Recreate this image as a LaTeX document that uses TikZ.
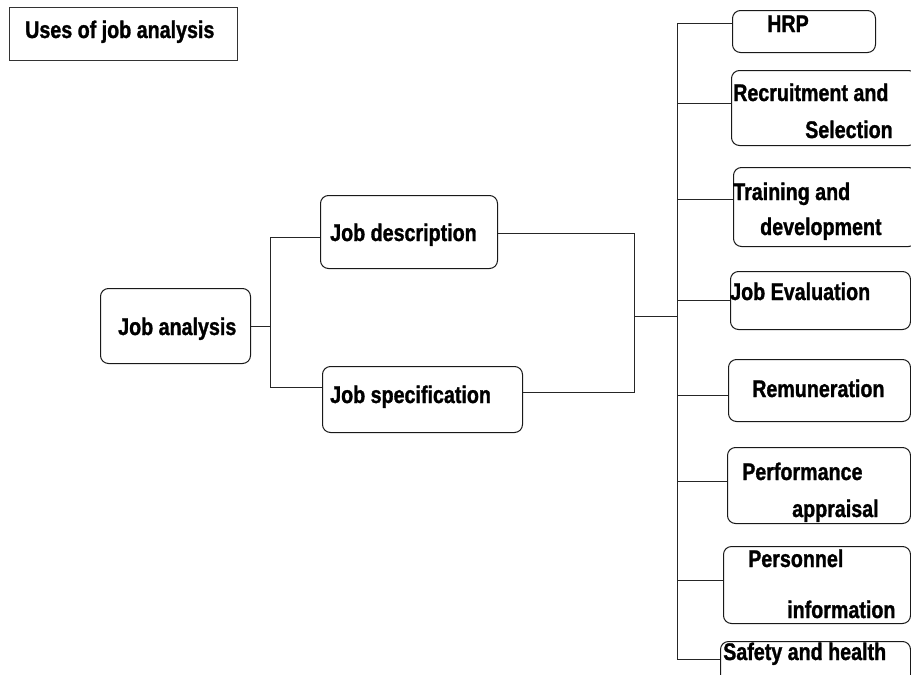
\documentclass[tikz,border=0pt]{standalone}
\usepackage{fontspec}
\setmainfont{Liberation Sans}[FakeStretch=0.82, BoldFeatures={FakeBold=1.2}]
\begin{document}
\begin{tikzpicture}[x=1pt,y=-1pt,
  box/.style={draw=black!90, line width=1pt, rounded corners=8pt, anchor=north west, inner sep=0pt},
  ttlbox/.style={draw=black!80, line width=1pt, anchor=north west, inner sep=0pt},
  lbl/.style={anchor=base west, inner sep=0pt, font=\fontsize{24}{26}\selectfont\bfseries},
  wire/.style={draw=black!85, line width=1pt}]
\useasboundingbox (0,0) rectangle (911,675);
\clip (0,0) rectangle (911,675);
% boxes
\node[ttlbox, minimum width=228pt, minimum height=53pt] (ttl) at (9,7) {};
\node[box, minimum width=150pt, minimum height=75pt] (ja) at (100,288) {};
\node[box, minimum width=177pt, minimum height=73pt] (jd) at (320,195) {};
\node[box, minimum width=200pt, minimum height=66pt] (js) at (322,366) {};
\node[box, minimum width=143pt, minimum height=42pt] (hrp) at (732,10) {};
\node[box, minimum width=185pt, minimum height=75pt] (rec) at (731,70) {};
\node[box, minimum width=183pt, minimum height=79pt] (trn) at (733,167) {};
\node[box, minimum width=180pt, minimum height=58pt] (jev) at (730,271) {};
\node[box, minimum width=182pt, minimum height=62pt] (rem) at (728,359) {};
\node[box, minimum width=183pt, minimum height=76pt] (per) at (727,447) {};
\node[box, minimum width=187pt, minimum height=77pt] (pin) at (723,546) {};
\node[box, minimum width=190pt, minimum height=50pt] (saf) at (720,641) {};
% texts
\node[lbl] (tttl) at (25,38) {Uses of job analysis};
\node[lbl] (tja) at (118,335) {Job analysis};
\node[lbl] (tjd) at (330,241) {Job description};
\node[lbl] (tjs) at (330,403) {Job specification};
\node[lbl] (thrp) at (767,32) {HRP};
\node[lbl] (trec1) at (733,101) {Recruitment and};
\node[lbl] (trec2) at (805,138) {Selection};
\node[lbl] (ttrn1) at (733,200) {Training and};
\node[lbl] (ttrn2) at (760,235) {development};
\node[lbl] (tjev) at (730,300) {Job Evaluation};
\node[lbl] (trem) at (752,397) {Remuneration};
\node[lbl] (tper1) at (742,480) {Performance};
\node[lbl] (tper2) at (792,517) {appraisal};
\node[lbl] (tpin1) at (748,567) {Personnel};
\node[lbl] (tpin2) at (787,618) {information};
\node[lbl] (tsaf) at (723,660) {Safety and health};
% connector helpers
\coordinate (sL) at (270,0);
\coordinate (sM) at (634,0);
\coordinate (sR) at (677,0);
\coordinate (mid) at (634,316);
\coordinate (jdL) at ([yshift=-5.5pt]jd.west);
\coordinate (jsL) at ([yshift=12pt]js.west);
\coordinate (jdR) at ([yshift=-1.5pt]jd.east);
\coordinate (jsR) at ([yshift=7pt]js.east);
\coordinate (hrpL) at ([yshift=8pt]hrp.west);
\coordinate (recL) at ([yshift=4.5pt]rec.west);
\coordinate (trnL) at ([yshift=7.5pt]trn.west);
\coordinate (jevL) at (jev.west);
\coordinate (remL) at ([yshift=-5pt]rem.west);
\coordinate (perL) at ([yshift=4pt]per.west);
\coordinate (pinL) at ([yshift=4.5pt]pin.west);
\coordinate (safL) at ([yshift=7pt]saf.west);
% connectors
\draw[wire] (ja.east) -- (ja.east -| sL);
\draw[wire] (jdL) -- (jdL -| sL) -- (jsL -| sL) -- (jsL);
\draw[wire] (jdR) -- (jdR -| sM) -- (jsR -| sM) -- (jsR);
\draw[wire] (mid) -- (mid -| sR);
\draw[wire] (hrpL -| sR) -- (safL -| sR);
\foreach \b in {hrpL,recL,trnL,jevL,remL,perL,pinL,safL}
  \draw[wire] (\b -| sR) -- (\b);
\end{tikzpicture}
\end{document}
